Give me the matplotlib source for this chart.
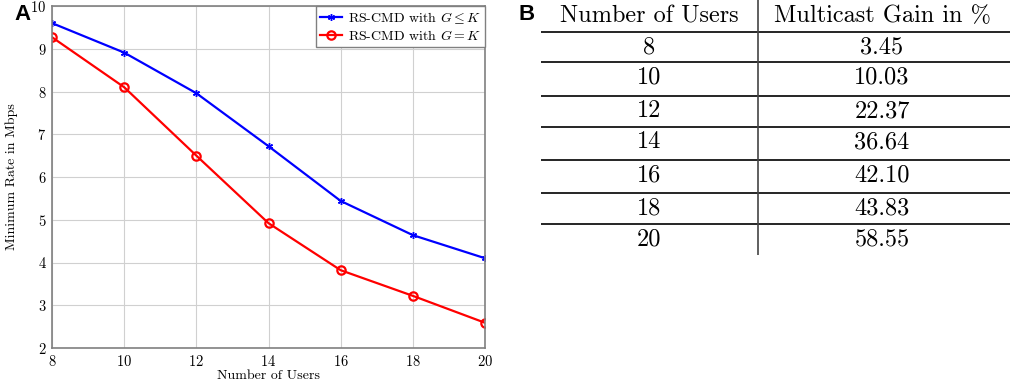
import matplotlib.pyplot as plt
import numpy as np

# data
users = [8, 10, 12, 14, 16, 18, 20]
rate_g_le_k = [9.60, 8.91, 7.96, 6.72, 5.44, 4.64, 4.10]
rate_g_eq_k = [9.27, 8.10, 6.50, 4.92, 3.82, 3.22, 2.59]
table_header = ['Number of Users', 'Multicast Gain in %']
gain = ['3.45', '10.03', '22.37', '36.64', '42.10', '43.83', '58.55']

plt.rcParams['font.family'] = 'serif'
plt.rcParams['font.serif'] = ['cmr10', 'DejaVu Serif']
plt.rcParams['mathtext.fontset'] = 'cm'
plt.rcParams['axes.formatter.use_mathtext'] = True

fig = plt.figure(figsize=(10.10, 3.82), dpi=100)

# panel A: line chart
ax = fig.add_axes([52/1010, 1-348/382, (485-52)/1010, (348-6)/382])
ax.plot(users, rate_g_le_k, color='blue', linewidth=1.6, marker=(6, 2, 0),
        markersize=5, label=r'RS-CMD with $G \leq K$')
ax.plot(users, rate_g_eq_k, color='red', linewidth=1.6, marker='o',
        markersize=6, markerfacecolor='none', markeredgewidth=1.6,
        label=r'RS-CMD with $G = K$')
ax.set_xlim(8, 20)
ax.set_ylim(2, 10)
ax.set_xticks(np.arange(8, 21, 2))
ax.set_yticks(np.arange(2, 11, 1))
ax.grid(True, color='#d0d0d0', linewidth=0.8)
ax.tick_params(labelsize=10.5, length=0, pad=4)
for s in ax.spines.values():
    s.set_color('#808080')
    s.set_linewidth(1.2)
ax.set_xlabel('Number of Users', fontsize=10, labelpad=1)
ax.set_ylabel('Minimum Rate in Mbps', fontsize=10, labelpad=9)
leg = ax.legend(loc='upper right', fontsize=10, fancybox=False,
                borderaxespad=0, handlelength=1.6, handletextpad=0.4,
                borderpad=0.3, labelspacing=0.2, framealpha=1)
leg.get_frame().set_edgecolor('#808080')

# panel B: table drawn on a pixel-coordinate overlay
tb = fig.add_axes([0, 0, 1, 1])
tb.set_xlim(0, 1010)
tb.set_ylim(382, 0)
tb.axis('off')
tb.patch.set_alpha(0)
col_x = [649, 882]
line_y = [32, 62, 96, 127, 160, 193, 224]
tb.text(col_x[0], 16, table_header[0], ha='center', va='center', fontsize=17.5)
tb.text(col_x[1], 16, table_header[1], ha='center', va='center', fontsize=17.5)
tb.hlines(line_y, 541, 1010, color='black', linewidth=1.2)
tb.vlines(757.5, 0, 255, color='#444444', linewidth=1.2)
for i, u in enumerate(users):
    y = line_y[i] + 15
    tb.text(col_x[0], y, str(u), ha='center', va='center', fontsize=17.5)
    tb.text(col_x[1], y, gain[i], ha='center', va='center', fontsize=17.5)

# panel letters
fig.text(14/1010, 1-14/382, 'A', family='Liberation Sans', fontweight='bold',
         fontsize=16, ha='left', va='center')
fig.text(519/1010, 1-14/382, 'B', family='Liberation Sans', fontweight='bold',
         fontsize=16, ha='left', va='center')

fig.savefig('out.png', dpi=100)
